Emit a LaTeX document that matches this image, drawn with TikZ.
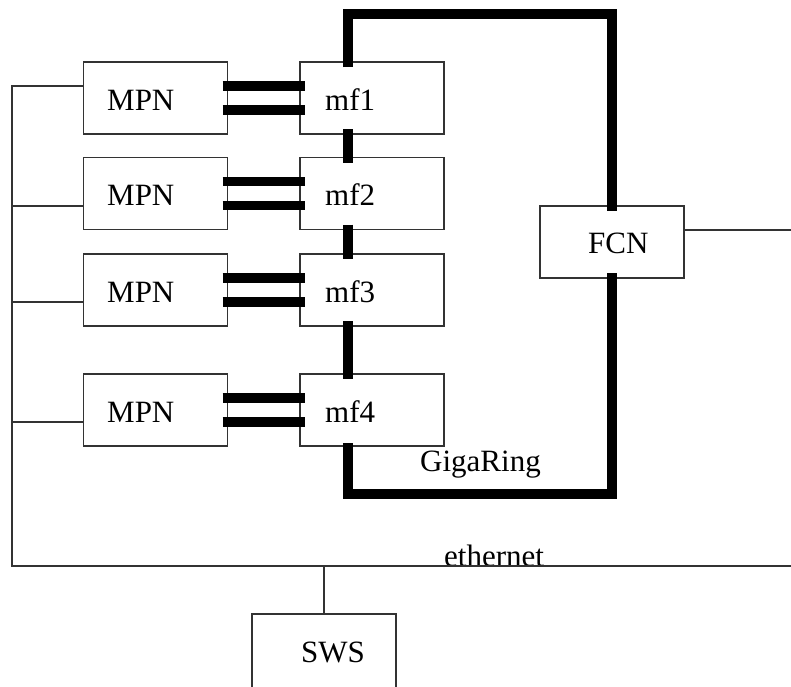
\documentclass[tikz,border=0pt]{standalone}
\usepackage{fontspec}
\setmainfont{Liberation Serif}
\usetikzlibrary{calc}
\begin{document}
\begin{tikzpicture}[x=1pt,y=-1pt,
  box/.style={draw=black!80,line width=1.2pt,minimum width=144pt,minimum height=72pt,inner sep=0pt,outer sep=0pt},
  lbl/.style={anchor=base west,inner sep=0pt,font=\fontsize{31}{31}\selectfont},
  thin/.style={draw=black!80,line width=1.2pt},
  ring/.style={draw=black,line width=10pt,line join=miter,line cap=butt},
  link/.style={draw=black,line width=9.5pt,line cap=butt}]
\useasboundingbox (0,0) rectangle (791,686);
% boxes
\node[box] (mpn1) at (155.5,98) {};
\node[box] (mpn2) at (155.5,193.5) {};
\node[box] (mpn3) at (155.5,290) {};
\node[box] (mpn4) at (155.5,410) {};
\node[box] (mf1) at (372,98) {};
\node[box] (mf2) at (372,193.5) {};
\node[box] (mf3) at (372,290) {};
\node[box] (mf4) at (372,410) {};
\node[box] (fcn) at (612,242) {};
\node[box,minimum height=76pt] (sws) at (324,652) {};
% labels
\node[lbl] (tm1) at (107,110) {MPN};
\node[lbl] (tm2) at (107,205) {MPN};
\node[lbl] (tm3) at (107,302) {MPN};
\node[lbl] (tm4) at (107,422) {MPN};
\node[lbl] (tf1) at (325,110) {mf1};
\node[lbl] (tf2) at (325,205) {mf2};
\node[lbl] (tf3) at (325,302) {mf3};
\node[lbl] (tf4) at (325,422) {mf4};
\node[lbl] (tfcn) at (588,253) {FCN};
\node[lbl] (tsws) at (301,662) {SWS};
\node[lbl] (tgiga) at (420,471) {GigaRing};
\node[lbl] (teth) at (444,566) {ethernet};
% double links MPN - mf
\foreach \i in {1,2,3,4}{
  \draw[link] ($(mpn\i.east)+(-5,-12)$) -- ($(mf\i.west)+(5,-12)$);
  \draw[link] ($(mpn\i.east)+(-5,12)$) -- ($(mf\i.west)+(5,12)$);
}
% GigaRing
\coordinate (rtl) at (348,14);
\coordinate (rtr) at (612,14);
\coordinate (rbl) at (348,494);
\coordinate (rbr) at (612,494);
\draw[ring] ($(mf1.north)+(-24,5)$) -- (rtl) -- (rtr) -- ($(fcn.north)+(0,5)$);
\draw[ring] ($(fcn.south)+(0,-5)$) -- (rbr) -- (rbl) -- ($(mf4.south)+(-24,-3)$);
\draw[ring] ($(mf1.south)+(-24,-5)$) -- ($(mf2.north)+(-24,5)$);
\draw[ring] ($(mf2.south)+(-24,-5)$) -- ($(mf3.north)+(-24,5)$);
\draw[ring] ($(mf3.south)+(-24,-5)$) -- ($(mf4.north)+(-24,5)$);
% ethernet
\coordinate (e1) at (12,86);
\coordinate (ebl) at (12,566);
\coordinate (ebr) at (791,566);
\coordinate (fcnend) at (791,230);
\draw[thin] ($(mpn1.west)+(0,-12)$) -- (e1) -- (ebl) -- (ebr);
\draw[thin] ($(mpn2.west)+(0,12.5)$) -- (12,206);
\draw[thin] ($(mpn3.west)+(0,12)$) -- (12,302);
\draw[thin] ($(mpn4.west)+(0,12)$) -- (12,422);
\draw[thin] (324,566) -- (sws.north);
\draw[thin] ($(fcn.east)+(0,-12)$) -- (fcnend);
\end{tikzpicture}
\end{document}
